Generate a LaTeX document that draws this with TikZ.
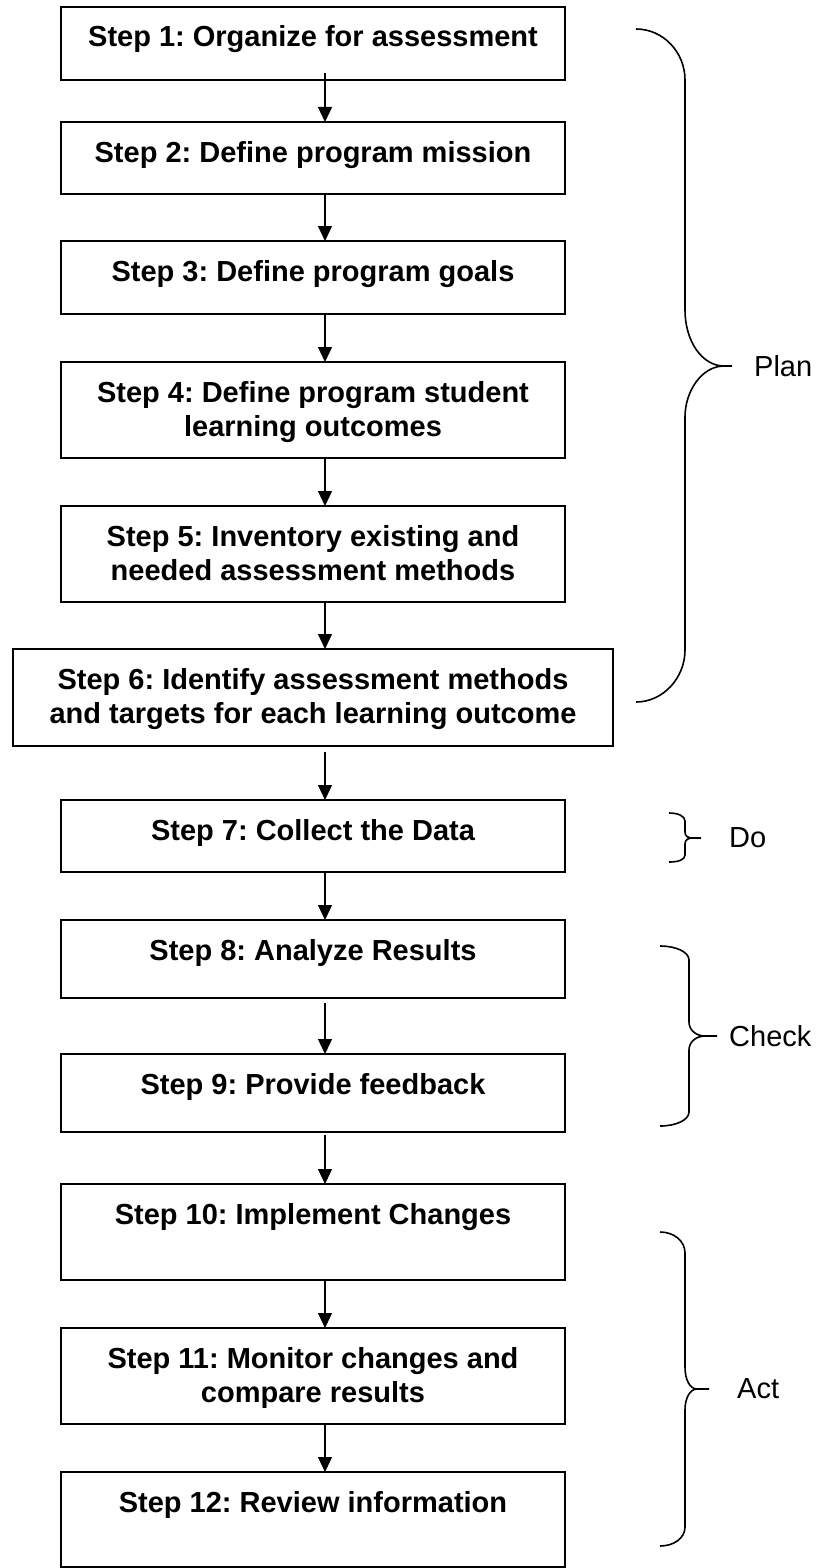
\documentclass[tikz,border=0pt]{standalone}
\usepackage{fontspec}
\setmainfont{Liberation Sans}
\usepackage{tikz}
\usetikzlibrary{arrows.meta,positioning}
\frenchspacing

\begin{document}
\begin{tikzpicture}[
  x=1pt, y=-1pt,
  box/.style={draw, line width=2pt, outer sep=0pt, inner xsep=6pt, inner ysep=0pt, align=center, minimum width=504pt, text height=40pt, font=\fontsize{29}{34}\selectfont\bfseries},
  twoline/.style={text height=74pt},
  arrow/.style={-{Triangle[length=15pt, width=14pt]}, line width=1.3pt},
  curly/.style={line width=1.6pt},
  phase/.style={inner sep=0pt, font=\fontsize{29}{34}\selectfont}
]
\useasboundingbox (0,0) rectangle (817,1568);

% steps
\node[box, anchor=north, text depth=33pt] (s1) at (313,7) {Step 1: Organize for assessment};
\node[box, below=42pt of s1, text depth=32pt] (s2) {Step 2: Define program mission};
\node[box, below=47pt of s2, text depth=33pt] (s3) {Step 3: Define program goals};
\node[box, twoline, below=48pt of s3, text depth=22pt] (s4) {Step 4: Define program student\\learning outcomes};
\node[box, twoline, below=48pt of s4, text depth=22pt] (s5) {Step 5: Inventory existing and\\needed assessment methods};
\node[box, twoline, below=47pt of s5, text depth=23pt, minimum width=600pt] (s6) {Step 6: Identify assessment methods\\and targets for each learning outcome};
\node[box, below=54pt of s6, text depth=32pt] (s7) {Step 7: Collect the Data};
\node[box, below=48pt of s7, text depth=38pt] (s8) {Step 8: Analyze Results};
\node[box, below=56pt of s8, text depth=38pt] (s9) {Step 9: Provide feedback};
\node[box, below=52pt of s9, text depth=56pt] (s10) {Step 10: Implement Changes};
\node[box, twoline, below=48pt of s10, text depth=22pt] (s11) {Step 11: Monitor changes and\\compare results};
\node[box, below=48pt of s11, text depth=55pt] (s12) {Step 12: Review information};

% arrows
\draw[arrow, shorten <=-7pt] ([xshift=12pt]s1.south) -- ([xshift=12pt]s2.north);
\draw[arrow] ([xshift=12pt]s2.south) -- ([xshift=12pt]s3.north);
\draw[arrow] ([xshift=12pt]s3.south) -- ([xshift=12pt]s4.north);
\draw[arrow] ([xshift=12pt]s4.south) -- ([xshift=12pt]s5.north);
\draw[arrow] ([xshift=12pt]s5.south) -- ([xshift=12pt]s6.north);
\draw[arrow, shorten <=6pt] ([xshift=12pt]s6.south) -- ([xshift=12pt]s7.north);
\draw[arrow] ([xshift=12pt]s7.south) -- ([xshift=12pt]s8.north);
\draw[arrow, shorten <=5pt] ([xshift=12pt]s8.south) -- ([xshift=12pt]s9.north);
\draw[arrow, shorten <=3pt] ([xshift=12pt]s9.south) -- ([xshift=12pt]s10.north);
\draw[arrow] ([xshift=12pt]s10.south) -- ([xshift=12pt]s11.north);
\draw[arrow] ([xshift=12pt]s11.south) -- ([xshift=12pt]s12.north);

% braces
\coordinate (plantip) at (732,366);
\coordinate (dotip) at (701,838);
\coordinate (checktip) at (717,1036);
\coordinate (acttip) at (709,1389);

\draw[curly] (636,29) .. controls (663,29) and (685,52) .. (685,80) -- (685,310)
  .. controls (685,341) and (702,366) .. (724,366) -- (plantip)
  (724,366) .. controls (702,366) and (685,391) .. (685,417) -- (685,650)
  .. controls (685,678) and (663,702) .. (636,702);
\draw[curly] (669,813) .. controls (678,813) and (685,816) .. (685,821) -- (685,832)
  .. controls (685,836) and (688,838) .. (692,838) -- (dotip)
  (692,838) .. controls (688,838) and (685,840) .. (685,844) -- (685,855)
  .. controls (685,860) and (678,862) .. (669,862);
\draw[curly] (660,946) .. controls (676,946) and (689,952) .. (689,960) -- (689,1022)
  .. controls (689,1030) and (696,1036) .. (705,1036) -- (checktip)
  (705,1036) .. controls (696,1036) and (689,1042) .. (689,1050) -- (689,1112)
  .. controls (689,1120) and (676,1126) .. (660,1126);
\draw[curly] (660,1232) .. controls (674,1232) and (685,1241) .. (685,1253) -- (685,1367)
  .. controls (685,1380) and (690,1389) .. (697,1389) -- (acttip)
  (697,1389) .. controls (690,1389) and (685,1398) .. (685,1410) -- (685,1527)
  .. controls (685,1538) and (674,1546) .. (660,1546);

\node[phase, right=22pt of plantip] (plan) {Plan};
\node[phase, right=28pt of dotip] (do) {Do};
\node[phase, right=12pt of checktip] (check) {Check};
\node[phase, right=28pt of acttip] (act) {Act};
\end{tikzpicture}
\end{document}
